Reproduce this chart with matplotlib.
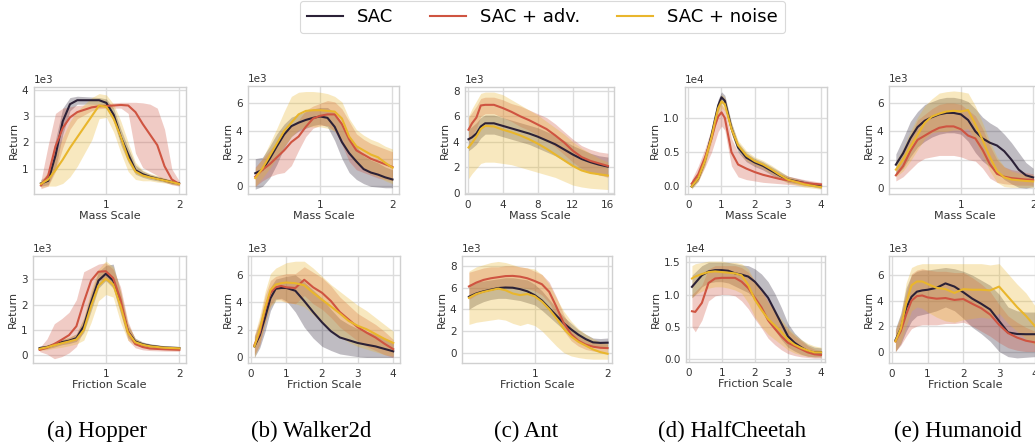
import numpy as np
import matplotlib
matplotlib.use("Agg")
import matplotlib.pyplot as plt
from matplotlib.lines import Line2D

# methods / colours
labels = ["SAC", "SAC + adv.", "SAC + noise"]
colors = ["#2b2137", "#cf5441", "#e9b62c"]

# ---------------- Hopper, mass (x1e3)
hop_m_x = [0.1, 0.2, 0.3, 0.4, 0.5, 0.6, 0.8, 0.9, 1.0, 1.1, 1.2, 1.3, 1.4, 1.5, 1.6, 1.7, 1.8, 1.9, 2.0]
hop_m_sac = [0.45, 0.55, 1.5, 2.8, 3.45, 3.6, 3.6, 3.6, 3.5, 3.05, 2.2, 1.55, 0.95, 0.8, 0.7, 0.63, 0.57, 0.5, 0.45]
hop_m_sac_lo = [0.35, 0.4, 1.0, 2.3, 3.2, 3.45, 3.45, 3.45, 3.3, 2.8, 1.9, 1.25, 0.8, 0.68, 0.6, 0.55, 0.5, 0.43, 0.38]
hop_m_sac_hi = [0.6, 0.75, 2.1, 3.3, 3.7, 3.75, 3.72, 3.7, 3.65, 3.3, 2.5, 1.8, 1.15, 0.92, 0.8, 0.72, 0.64, 0.57, 0.52]
hop_m_adv = [0.37, 0.75, 1.85, 2.55, 2.95, 3.15, 3.33, 3.37, 3.38, 3.4, 3.42, 3.4, 3.15, 2.7, 2.3, 1.9, 1.1, 0.6, 0.43]
hop_m_adv_lo = [0.25, 0.35, 0.9, 1.8, 2.5, 2.9, 3.2, 3.28, 3.3, 3.3, 3.3, 3.1, 1.6, 1.05, 0.9, 0.75, 0.5, 0.4, 0.35]
hop_m_adv_hi = [0.55, 1.9, 3.1, 3.3, 3.35, 3.4, 3.45, 3.47, 3.47, 3.5, 3.52, 3.52, 3.52, 3.5, 3.45, 3.3, 2.5, 1.0, 0.55]
hop_m_noi = [0.43, 0.6, 0.95, 1.35, 1.8, 2.2, 3.0, 3.4, 3.35, 2.9, 2.2, 1.4, 0.9, 0.75, 0.68, 0.62, 0.56, 0.5, 0.43]
hop_m_noi_lo = [0.3, 0.35, 0.35, 0.45, 0.7, 1.1, 2.1, 2.9, 2.95, 2.4, 1.6, 0.9, 0.6, 0.55, 0.55, 0.5, 0.47, 0.42, 0.37]
hop_m_noi_hi = [0.55, 0.9, 1.5, 2.2, 2.8, 3.2, 3.7, 3.85, 3.8, 3.45, 2.8, 2.0, 1.25, 0.95, 0.82, 0.75, 0.66, 0.58, 0.5]

# ---------------- Walker2d, mass (x1e3)
wal_m_x = [0.1, 0.2, 0.3, 0.4, 0.5, 0.6, 0.7, 0.8, 0.9, 1.0, 1.1, 1.2, 1.3, 1.4, 1.5, 1.6, 1.7, 1.8, 1.9, 2.0]
wal_m_sac = [0.95, 1.2, 2.0, 2.9, 3.75, 4.35, 4.6, 4.8, 4.95, 5.05, 4.95, 4.3, 3.2, 2.4, 1.8, 1.25, 1.0, 0.85, 0.65, 0.5]
wal_m_sac_lo = [-0.2, 0.0, 0.6, 1.6, 2.8, 3.6, 4.0, 4.2, 4.4, 4.5, 4.3, 3.3, 2.0, 1.0, 0.5, 0.2, 0.0, -0.05, -0.1, -0.1]
wal_m_sac_hi = [2.0, 2.1, 2.9, 3.8, 4.5, 5.0, 5.2, 5.4, 5.6, 5.7, 5.7, 5.3, 4.4, 3.6, 2.9, 2.2, 1.9, 1.7, 1.4, 1.2]
wal_m_adv = [0.7, 1.2, 1.6, 2.1, 2.6, 3.2, 3.6, 4.3, 4.9, 5.1, 5.2, 5.2, 4.5, 3.4, 2.6, 2.3, 2.0, 1.8, 1.6, 1.4]
wal_m_adv_lo = [0.0, 0.4, 0.7, 0.9, 1.0, 1.5, 2.6, 3.6, 4.2, 4.4, 4.4, 4.0, 3.0, 1.8, 1.2, 1.0, 0.8, 0.6, 0.5, 0.4]
wal_m_adv_hi = [1.4, 2.0, 2.6, 3.2, 3.8, 4.4, 4.8, 5.5, 5.8, 6.0, 6.2, 6.1, 5.6, 4.7, 3.8, 3.4, 3.1, 2.9, 2.7, 2.5]
wal_m_noi = [0.6, 1.3, 2.2, 3.1, 4.0, 4.6, 5.2, 5.45, 5.5, 5.5, 5.45, 5.4, 4.9, 3.6, 2.9, 2.6, 2.3, 2.1, 1.7, 1.35]
wal_m_noi_lo = [0.0, 0.6, 1.3, 2.1, 2.9, 3.6, 4.1, 4.3, 4.3, 4.3, 4.2, 4.0, 3.4, 2.3, 1.6, 1.2, 0.9, 0.7, 0.4, 0.2]
wal_m_noi_hi = [1.3, 2.0, 3.1, 4.2, 5.4, 6.5, 6.8, 6.85, 6.85, 6.8, 6.7, 6.5, 6.1, 4.9, 4.1, 3.7, 3.4, 3.2, 2.9, 2.7]

# ---------------- Ant, mass (x1e3)
ant_m_x = [0.1, 0.5, 1.0, 1.5, 2, 3, 4, 5, 6, 7, 8, 9, 10, 11, 12, 13, 14, 15, 16]
ant_m_sac = [4.2, 4.35, 4.65, 5.2, 5.45, 5.45, 5.25, 5.05, 4.85, 4.65, 4.4, 4.1, 3.8, 3.4, 3.0, 2.65, 2.4, 2.2, 2.05]
ant_m_sac_lo = [3.3, 3.5, 3.8, 4.3, 4.6, 4.6, 4.4, 4.2, 4.0, 3.8, 3.5, 3.2, 2.9, 2.5, 2.1, 1.8, 1.6, 1.4, 1.3]
ant_m_sac_hi = [5.0, 5.2, 5.5, 5.9, 6.1, 6.1, 5.9, 5.7, 5.5, 5.3, 5.1, 4.8, 4.5, 4.1, 3.7, 3.4, 3.1, 2.9, 2.8]
ant_m_adv = [4.95, 5.45, 5.9, 6.85, 6.9, 6.9, 6.65, 6.35, 6.0, 5.7, 5.35, 5.0, 4.5, 3.95, 3.3, 2.8, 2.5, 2.3, 2.1]
ant_m_adv_lo = [4.0, 4.5, 5.0, 6.0, 6.2, 6.2, 5.9, 5.6, 5.2, 4.9, 4.5, 4.1, 3.6, 3.0, 2.4, 1.9, 1.6, 1.4, 1.2]
ant_m_adv_hi = [5.9, 6.3, 6.8, 7.4, 7.5, 7.5, 7.3, 7.0, 6.8, 6.5, 6.2, 5.9, 5.4, 4.8, 4.2, 3.7, 3.4, 3.2, 3.1]
ant_m_noi = [3.55, 3.9, 4.4, 5.0, 5.25, 5.2, 4.95, 4.75, 4.5, 4.2, 3.85, 3.45, 3.0, 2.55, 2.1, 1.75, 1.55, 1.45, 1.35]
ant_m_noi_lo = [1.1, 1.5, 1.9, 2.3, 2.4, 2.4, 2.3, 2.2, 2.0, 1.8, 1.6, 1.4, 1.2, 0.9, 0.6, 0.45, 0.35, 0.3, 0.25]
ant_m_noi_hi = [6.0, 6.6, 7.2, 7.8, 7.9, 7.9, 7.7, 7.3, 6.9, 6.5, 6.1, 5.6, 5.1, 4.6, 4.0, 3.5, 3.1, 2.7, 2.4]

# ---------------- HalfCheetah, mass (x1e4)
hc_m_x = [0.1, 0.3, 0.5, 0.7, 0.8, 0.9, 1.0, 1.1, 1.2, 1.3, 1.5, 1.75, 2.0, 2.25, 2.5, 2.75, 3.0, 3.5, 4.0]
hc_m_sac = [0.0, 0.12, 0.38, 0.75, 0.97, 1.18, 1.3, 1.25, 1.05, 0.85, 0.57, 0.42, 0.35, 0.3, 0.23, 0.16, 0.1, 0.05, 0.0]
hc_m_sac_lo = [-0.03, 0.08, 0.32, 0.68, 0.9, 1.1, 1.22, 1.17, 0.97, 0.77, 0.5, 0.36, 0.29, 0.24, 0.17, 0.11, 0.06, 0.02, -0.03]
hc_m_sac_hi = [0.04, 0.17, 0.44, 0.82, 1.05, 1.27, 1.38, 1.33, 1.13, 0.93, 0.64, 0.49, 0.41, 0.36, 0.29, 0.22, 0.15, 0.09, 0.03]
hc_m_adv = [0.04, 0.18, 0.42, 0.7, 0.88, 1.02, 1.08, 1.0, 0.75, 0.5, 0.32, 0.26, 0.21, 0.17, 0.14, 0.11, 0.09, 0.05, 0.03]
hc_m_adv_lo = [0.0, 0.08, 0.28, 0.5, 0.65, 0.8, 0.88, 0.82, 0.55, 0.3, 0.14, 0.1, 0.08, 0.06, 0.05, 0.04, 0.03, 0.01, 0.0]
hc_m_adv_hi = [0.1, 0.3, 0.55, 0.85, 1.03, 1.15, 1.2, 1.13, 0.92, 0.7, 0.5, 0.42, 0.35, 0.29, 0.24, 0.19, 0.15, 0.1, 0.06]
hc_m_noi = [0.0, 0.12, 0.37, 0.72, 0.94, 1.14, 1.24, 1.2, 1.02, 0.84, 0.6, 0.45, 0.37, 0.32, 0.25, 0.17, 0.1, 0.03, -0.01]
hc_m_noi_lo = [-0.04, 0.07, 0.3, 0.64, 0.85, 1.04, 1.14, 1.1, 0.93, 0.76, 0.53, 0.38, 0.31, 0.26, 0.19, 0.11, 0.05, -0.01, -0.04]
hc_m_noi_hi = [0.04, 0.17, 0.44, 0.8, 1.03, 1.24, 1.34, 1.3, 1.11, 0.92, 0.67, 0.52, 0.43, 0.38, 0.31, 0.23, 0.15, 0.07, 0.02]

# ---------------- Humanoid, mass (x1e3)
hum_m_x = [0.1, 0.2, 0.3, 0.4, 0.5, 0.6, 0.7, 0.8, 0.9, 1.0, 1.1, 1.2, 1.3, 1.4, 1.5, 1.6, 1.7, 1.8, 1.9, 2.0]
hum_m_sac = [1.65, 2.45, 3.5, 4.3, 4.75, 5.0, 5.2, 5.3, 5.3, 5.2, 4.8, 4.0, 3.5, 3.2, 3.0, 2.6, 2.0, 1.3, 0.9, 0.75]
hum_m_sac_lo = [0.9, 1.4, 2.2, 2.9, 3.3, 3.6, 3.8, 3.9, 3.9, 3.8, 3.3, 2.5, 1.9, 1.5, 1.1, 0.6, 0.3, 0.05, 0.0, 0.1]
hum_m_sac_hi = [2.4, 3.5, 4.7, 5.4, 5.9, 6.1, 6.3, 6.4, 6.4, 6.3, 6.1, 5.6, 5.0, 4.6, 4.3, 3.8, 3.2, 2.5, 1.8, 1.4]
hum_m_adv = [0.9, 1.55, 2.6, 3.4, 3.7, 4.0, 4.25, 4.35, 4.35, 4.15, 3.7, 3.5, 2.7, 1.7, 1.0, 0.8, 0.7, 0.65, 0.6, 0.58]
hum_m_adv_lo = [0.5, 0.8, 1.3, 1.8, 2.1, 2.2, 2.3, 2.3, 2.3, 2.2, 2.0, 1.9, 1.4, 0.7, 0.4, 0.3, 0.25, 0.2, 0.2, 0.2]
hum_m_adv_hi = [1.4, 2.4, 3.7, 4.8, 5.2, 5.6, 5.9, 6.0, 6.0, 5.9, 5.5, 5.1, 4.2, 3.0, 2.0, 1.5, 1.3, 1.2, 1.1, 1.0]
hum_m_noi = [1.3, 2.0, 2.9, 3.75, 4.6, 5.05, 5.25, 5.4, 5.45, 5.4, 5.5, 4.5, 3.4, 2.2, 1.2, 0.75, 0.6, 0.55, 0.5, 0.47]
hum_m_noi_lo = [0.8, 1.2, 1.9, 2.7, 3.5, 3.9, 4.0, 4.0, 4.1, 4.1, 4.2, 3.3, 2.3, 1.2, 0.4, 0.1, 0.05, 0.05, 0.05, 0.05]
hum_m_noi_hi = [1.9, 2.8, 4.0, 5.0, 5.8, 6.3, 6.7, 6.8, 6.85, 6.8, 6.7, 5.8, 4.6, 3.3, 2.2, 1.5, 1.2, 1.05, 0.95, 0.9]

# ---------------- Hopper, friction (x1e3)
hop_f_x = [0.1, 0.2, 0.3, 0.4, 0.5, 0.6, 0.7, 0.8, 0.9, 1.0, 1.1, 1.2, 1.3, 1.4, 1.5, 1.6, 1.8, 2.0]
hop_f_sac = [0.29, 0.33, 0.42, 0.52, 0.58, 0.68, 1.15, 2.1, 2.95, 3.22, 2.95, 2.05, 0.95, 0.55, 0.44, 0.38, 0.31, 0.29]
hop_f_sac_lo = [0.22, 0.26, 0.33, 0.42, 0.47, 0.55, 0.9, 1.75, 2.65, 2.95, 2.65, 1.65, 0.7, 0.42, 0.35, 0.3, 0.25, 0.23]
hop_f_sac_hi = [0.36, 0.41, 0.52, 0.62, 0.7, 0.85, 1.45, 2.45, 3.3, 3.55, 3.6, 2.5, 1.2, 0.68, 0.53, 0.46, 0.38, 0.35]
hop_f_adv = [0.22, 0.3, 0.45, 0.62, 0.8, 1.15, 2.1, 2.95, 3.3, 3.32, 3.05, 2.2, 0.95, 0.45, 0.33, 0.27, 0.24, 0.22]
hop_f_adv_lo = [0.15, 0.05, -0.13, -0.05, 0.1, 0.35, 1.0, 2.2, 2.95, 3.0, 2.7, 1.7, 0.6, 0.3, 0.22, 0.19, 0.17, 0.16]
hop_f_adv_hi = [0.3, 0.65, 1.25, 1.45, 1.7, 2.2, 3.3, 3.45, 3.6, 3.65, 3.4, 2.7, 1.35, 0.62, 0.45, 0.36, 0.31, 0.28]
hop_f_noi = [0.26, 0.32, 0.4, 0.48, 0.55, 0.63, 1.0, 1.95, 2.75, 3.02, 2.8, 1.95, 0.9, 0.52, 0.42, 0.36, 0.3, 0.28]
hop_f_noi_lo = [0.2, 0.22, 0.28, 0.32, 0.38, 0.45, 0.6, 1.3, 2.15, 2.4, 2.3, 1.3, 0.6, 0.4, 0.33, 0.28, 0.23, 0.21]
hop_f_noi_hi = [0.33, 0.42, 0.52, 0.62, 0.72, 0.85, 1.5, 2.6, 3.4, 3.72, 3.5, 2.55, 1.25, 0.66, 0.52, 0.44, 0.37, 0.35]

# ---------------- Walker2d, friction (x1e3)
wal_f_x = [0.1, 0.25, 0.4, 0.55, 0.7, 0.85, 1.0, 1.25, 1.5, 1.75, 2.0, 2.25, 2.5, 2.75, 3.0, 3.25, 3.5, 3.75, 4.0]
wal_f_sac = [0.8, 1.6, 2.9, 4.3, 5.0, 5.05, 5.05, 4.85, 4.1, 3.3, 2.55, 1.9, 1.45, 1.25, 1.05, 0.92, 0.8, 0.62, 0.44]
wal_f_sac_lo = [0.0, 0.7, 1.9, 3.4, 4.2, 4.3, 4.1, 3.3, 2.2, 1.4, 0.8, 0.5, 0.25, 0.15, 0.05, 0.0, 0.0, 0.0, 0.0]
wal_f_sac_hi = [1.5, 2.5, 3.9, 5.1, 5.7, 5.8, 5.9, 6.0, 5.5, 4.9, 4.3, 3.5, 2.8, 2.4, 2.1, 1.9, 1.7, 1.4, 1.1]
wal_f_adv = [0.9, 1.8, 3.5, 4.7, 5.1, 5.2, 5.1, 5.05, 5.65, 5.1, 4.7, 4.1, 3.3, 2.75, 2.2, 1.8, 1.45, 1.0, 0.6]
wal_f_adv_lo = [0.2, 0.9, 2.5, 3.8, 4.3, 4.2, 4.0, 3.9, 4.5, 3.9, 3.5, 2.9, 2.2, 1.7, 1.2, 0.8, 0.5, 0.2, 0.0]
wal_f_adv_hi = [1.6, 2.7, 4.5, 5.6, 5.9, 6.0, 6.1, 6.1, 6.6, 6.2, 5.8, 5.2, 4.4, 3.8, 3.2, 2.8, 2.4, 1.9, 1.3]
wal_f_noi = [0.8, 2.0, 3.6, 4.9, 5.3, 5.4, 5.45, 5.4, 5.25, 4.7, 4.2, 3.7, 3.2, 2.65, 2.3, 2.05, 1.7, 1.35, 1.05]
wal_f_noi_lo = [0.0, 1.0, 2.5, 3.7, 4.1, 4.1, 4.0, 3.9, 3.7, 3.1, 2.5, 2.0, 1.5, 1.1, 0.8, 0.6, 0.4, 0.2, 0.1]
wal_f_noi_hi = [1.6, 3.0, 4.8, 6.1, 6.5, 6.7, 6.9, 7.0, 7.0, 6.5, 5.9, 5.3, 4.8, 4.3, 3.8, 3.4, 2.9, 2.4, 1.9]

# ---------------- Ant, friction (x1e3)
ant_f_x = [0.1, 0.2, 0.3, 0.4, 0.5, 0.6, 0.7, 0.8, 0.9, 1.0, 1.1, 1.2, 1.3, 1.4, 1.5, 1.6, 1.7, 1.8, 1.9, 2.0]
ant_f_sac = [5.15, 5.45, 5.65, 5.8, 5.95, 6.0, 5.98, 5.85, 5.65, 5.3, 4.8, 4.1, 3.4, 2.7, 2.15, 1.65, 1.25, 0.95, 0.9, 0.92]
ant_f_sac_lo = [4.0, 4.4, 4.7, 4.9, 5.0, 5.0, 4.9, 4.8, 4.6, 4.4, 3.9, 3.3, 2.7, 2.1, 1.6, 1.2, 0.85, 0.6, 0.5, 0.5]
ant_f_sac_hi = [6.3, 6.5, 6.6, 6.7, 6.8, 6.9, 6.9, 6.8, 6.7, 6.3, 5.7, 4.9, 4.1, 3.3, 2.7, 2.1, 1.7, 1.35, 1.3, 1.35]
ant_f_adv = [6.1, 6.45, 6.7, 6.85, 6.95, 7.05, 7.07, 7.0, 6.85, 6.6, 6.3, 5.6, 4.2, 2.7, 1.7, 1.1, 0.75, 0.55, 0.45, 0.42]
ant_f_adv_lo = [4.9, 5.3, 5.6, 5.8, 5.9, 6.0, 6.1, 6.0, 5.9, 5.7, 5.3, 4.6, 3.3, 2.0, 1.1, 0.6, 0.3, 0.15, 0.05, 0.05]
ant_f_adv_hi = [7.4, 7.6, 7.8, 7.9, 7.9, 8.0, 8.0, 7.9, 7.8, 7.5, 7.2, 6.5, 5.1, 3.5, 2.3, 1.6, 1.2, 0.95, 0.85, 0.8]
ant_f_noi = [5.05, 5.4, 5.6, 5.75, 5.9, 5.75, 5.45, 5.3, 5.4, 5.2, 4.7, 4.0, 3.15, 2.2, 1.5, 1.0, 0.65, 0.3, 0.05, -0.1]
ant_f_noi_lo = [2.6, 2.8, 2.9, 3.0, 3.1, 3.0, 2.7, 2.5, 2.7, 2.5, 2.0, 1.3, 0.6, 0.0, -0.3, -0.45, -0.55, -0.6, -0.6, -0.6]
ant_f_noi_hi = [7.5, 7.9, 8.1, 8.3, 8.4, 8.3, 8.1, 7.9, 7.8, 7.7, 7.2, 6.3, 5.0, 3.8, 2.9, 2.2, 1.7, 1.3, 1.0, 0.9]

# ---------------- HalfCheetah, friction (x1e4)
hc_f_x = [0.1, 0.2, 0.4, 0.6, 0.8, 1.0, 1.2, 1.4, 1.6, 1.8, 2.0, 2.2, 2.4, 2.6, 2.8, 3.0, 3.2, 3.4, 3.6, 3.8, 4.0]
hc_f_sac = [1.12, 1.18, 1.3, 1.36, 1.38, 1.38, 1.37, 1.33, 1.31, 1.28, 1.2, 1.08, 0.95, 0.75, 0.55, 0.35, 0.25, 0.18, 0.12, 0.1, 0.1]
hc_f_sac_lo = [0.95, 1.0, 1.12, 1.18, 1.2, 1.2, 1.18, 1.13, 1.08, 1.03, 0.93, 0.78, 0.62, 0.45, 0.3, 0.18, 0.12, 0.07, 0.04, 0.03, 0.03]
hc_f_sac_hi = [1.3, 1.35, 1.45, 1.5, 1.5, 1.5, 1.5, 1.48, 1.46, 1.45, 1.4, 1.32, 1.2, 1.02, 0.8, 0.55, 0.4, 0.3, 0.22, 0.18, 0.17]
hc_f_adv = [0.74, 0.73, 0.87, 1.18, 1.25, 1.26, 1.26, 1.26, 1.2, 1.1, 0.95, 0.8, 0.6, 0.47, 0.35, 0.25, 0.2, 0.15, 0.1, 0.07, 0.06]
hc_f_adv_lo = [0.5, 0.42, 0.6, 0.9, 0.98, 1.0, 1.0, 0.98, 0.9, 0.78, 0.62, 0.48, 0.32, 0.22, 0.14, 0.08, 0.05, 0.03, 0.02, 0.01, 0.01]
hc_f_adv_hi = [1.0, 1.05, 1.15, 1.4, 1.45, 1.45, 1.45, 1.45, 1.42, 1.35, 1.22, 1.08, 0.9, 0.75, 0.58, 0.45, 0.36, 0.28, 0.2, 0.15, 0.13]
hc_f_noi = [1.25, 1.28, 1.32, 1.35, 1.36, 1.35, 1.34, 1.33, 1.3, 1.15, 0.92, 0.76, 0.62, 0.52, 0.42, 0.3, 0.22, 0.17, 0.13, 0.1, 0.1]
hc_f_noi_lo = [0.95, 1.0, 1.05, 1.1, 1.12, 1.12, 1.1, 1.07, 1.02, 0.87, 0.65, 0.5, 0.38, 0.3, 0.22, 0.14, 0.09, 0.06, 0.04, 0.03, 0.03]
hc_f_noi_hi = [1.45, 1.48, 1.5, 1.52, 1.52, 1.52, 1.5, 1.5, 1.48, 1.4, 1.2, 1.05, 0.88, 0.75, 0.62, 0.48, 0.38, 0.3, 0.24, 0.2, 0.18]

# ---------------- Humanoid, friction (x1e3)
hum_f_x = [0.1, 0.25, 0.4, 0.55, 0.7, 0.85, 1.0, 1.25, 1.5, 1.75, 2.0, 2.25, 2.5, 2.75, 3.0, 3.25, 3.5, 3.75, 4.0]
hum_f_sac = [0.9, 1.8, 3.4, 4.3, 4.7, 4.8, 4.85, 5.0, 5.35, 5.1, 4.65, 4.15, 3.75, 3.3, 2.4, 1.5, 1.38, 1.36, 1.36]
hum_f_sac_lo = [0.0, 0.6, 1.6, 2.4, 2.8, 2.9, 3.0, 3.2, 3.5, 3.2, 2.6, 1.9, 1.4, 0.8, 0.0, -0.4, -0.5, -0.45, -0.4]
hum_f_sac_hi = [1.8, 3.0, 5.0, 6.0, 6.3, 6.4, 6.4, 6.5, 6.6, 6.5, 6.3, 6.0, 5.6, 5.2, 4.5, 3.5, 3.2, 3.1, 3.1]
hum_f_adv = [0.8, 1.6, 2.9, 4.0, 4.35, 4.4, 4.25, 4.15, 4.2, 4.05, 4.12, 3.75, 3.4, 2.9, 2.1, 1.45, 1.1, 0.85, 0.72]
hum_f_adv_lo = [0.0, 0.5, 1.2, 1.8, 2.0, 2.1, 2.1, 2.1, 2.2, 2.2, 2.3, 2.0, 1.6, 1.2, 0.7, 0.3, 0.1, 0.0, 0.0]
hum_f_adv_hi = [1.6, 2.8, 4.6, 6.1, 6.4, 6.5, 6.4, 6.3, 6.3, 6.2, 6.2, 5.8, 5.3, 4.7, 3.7, 2.8, 2.3, 1.9, 1.6]
hum_f_noi = [0.8, 1.8, 3.8, 5.2, 5.5, 5.5, 5.3, 5.0, 4.9, 4.6, 4.9, 4.85, 4.85, 4.8, 5.1, 4.3, 3.5, 2.8, 2.0]
hum_f_noi_lo = [0.0, 0.7, 2.0, 3.2, 3.5, 3.4, 3.1, 2.7, 2.4, 2.3, 2.5, 2.6, 2.7, 2.6, 3.0, 2.2, 1.6, 1.0, 0.5]
hum_f_noi_hi = [1.7, 2.9, 5.4, 6.6, 6.8, 6.9, 6.9, 6.9, 6.9, 6.9, 6.9, 6.9, 6.9, 6.8, 6.9, 6.1, 5.3, 4.6, 3.6]

captions = ["(a) Hopper", "(b) Walker2d", "(c) Ant", "(d) HalfCheetah", "(e) Humanoid"]


plt.rcParams.update({
    "font.family": "DejaVu Sans",
    "axes.edgecolor": "#d0d0d0",
    "axes.linewidth": 1.0,
    "grid.color": "#dcdcdc",
    "grid.linewidth": 1.0,
    "xtick.color": "#333333",
    "ytick.color": "#333333",
    "axes.labelcolor": "#333333",
})

fig = plt.figure(figsize=(10.35, 4.42), dpi=100)

W, H = 1035.0, 442.0


def make_ax(left, top, width, height):
    return fig.add_axes([left / W, 1 - (top + height) / H, width / W, height / H])


def panel(ax, x, series, scale, xlabel, xlim, ylim, xticks, ystep):
    x = np.array(x)
    for (m, lo, hi), c in zip(series, colors):
        ax.fill_between(x, np.array(lo) * scale, np.array(hi) * scale,
                        color=c, alpha=0.3, linewidth=0)
    for (m, lo, hi), c in zip(series, colors):
        ax.plot(x, np.array(m) * scale, color=c, lw=1.5)
    ax.set_xlim(xlim)
    ax.set_ylim(ylim[0] * scale, ylim[1] * scale)
    ax.set_xticks(xticks)
    ax.yaxis.set_major_locator(plt.MultipleLocator(ystep * scale))
    ax.ticklabel_format(axis="y", style="sci", scilimits=(0, 0))
    ax.yaxis.get_offset_text().set_fontsize(7.5)
    ax.yaxis.get_offset_text().set_color("#333333")
    ax.grid(True)
    ax.set_axisbelow(True)
    ax.tick_params(length=0, labelsize=7.5, pad=4)
    ax.set_xlabel(xlabel, fontsize=8, labelpad=1)
    ax.set_ylabel("Return", fontsize=8, labelpad=2)


# row 1: mass
ax = make_ax(34, 87, 152, 107)
panel(ax, hop_m_x, [(hop_m_sac, hop_m_sac_lo, hop_m_sac_hi), (hop_m_adv, hop_m_adv_lo, hop_m_adv_hi),
                    (hop_m_noi, hop_m_noi_lo, hop_m_noi_hi)], 1e3, "Mass Scale",
      (0.005, 2.095), (0.05, 4.1), [1, 2], 1)
ax = make_ax(248, 86, 151, 108)
panel(ax, wal_m_x, [(wal_m_sac, wal_m_sac_lo, wal_m_sac_hi), (wal_m_adv, wal_m_adv_lo, wal_m_adv_hi),
                    (wal_m_noi, wal_m_noi_lo, wal_m_noi_hi)], 1e3, "Mass Scale",
      (0.0, 2.09), (-0.55, 7.25), [1, 2], 2)
ax = make_ax(465, 87, 149, 107)
panel(ax, ant_m_x, [(ant_m_sac, ant_m_sac_lo, ant_m_sac_hi), (ant_m_adv, ant_m_adv_lo, ant_m_adv_hi),
                    (ant_m_noi, ant_m_noi_lo, ant_m_noi_hi)], 1e3, "Mass Scale",
      (-0.3, 16.7), (-0.1, 8.3), [0, 4, 8, 12, 16], 2)
ax = make_ax(685, 87, 142, 107)
panel(ax, hc_m_x, [(hc_m_sac, hc_m_sac_lo, hc_m_sac_hi), (hc_m_adv, hc_m_adv_lo, hc_m_adv_hi),
                   (hc_m_noi, hc_m_noi_lo, hc_m_noi_hi)], 1e4, "Mass Scale",
      (-0.1, 4.18), (-0.11, 1.45), [0, 1, 2, 3, 4], 0.5)
ax = make_ax(889, 86, 151, 108)
panel(ax, hum_m_x, [(hum_m_sac, hum_m_sac_lo, hum_m_sac_hi), (hum_m_adv, hum_m_adv_lo, hum_m_adv_hi),
                    (hum_m_noi, hum_m_noi_lo, hum_m_noi_hi)], 1e3, "Mass Scale",
      (0.005, 2.095), (-0.42, 7.2), [1, 2], 2)

# row 2: friction
ax = make_ax(33, 256, 153, 107)
panel(ax, hop_f_x, [(hop_f_sac, hop_f_sac_lo, hop_f_sac_hi), (hop_f_adv, hop_f_adv_lo, hop_f_adv_hi),
                    (hop_f_noi, hop_f_noi_lo, hop_f_noi_hi)], 1e3, "Friction Scale",
      (0.01, 2.09), (-0.3, 3.92), [1, 2], 1)
ax = make_ax(248, 256, 152, 107)
panel(ax, wal_f_x, [(wal_f_sac, wal_f_sac_lo, wal_f_sac_hi), (wal_f_adv, wal_f_adv_lo, wal_f_adv_hi),
                    (wal_f_noi, wal_f_noi_lo, wal_f_noi_hi)], 1e3, "Friction Scale",
      (-0.08, 4.19), (-0.41, 7.38), [0, 1, 2, 3, 4], 2)
ax = make_ax(462, 256, 150, 107)
panel(ax, ant_f_x, [(ant_f_sac, ant_f_sac_lo, ant_f_sac_hi), (ant_f_adv, ant_f_adv_lo, ant_f_adv_hi),
                    (ant_f_noi, ant_f_noi_lo, ant_f_noi_hi)], 1e3, "Friction Scale",
      (0.005, 2.06), (-0.95, 8.9), [1, 2], 2)
ax = make_ax(686, 256, 139, 106)
panel(ax, hc_f_x, [(hc_f_sac, hc_f_sac_lo, hc_f_sac_hi), (hc_f_adv, hc_f_adv_lo, hc_f_adv_hi),
                   (hc_f_noi, hc_f_noi_lo, hc_f_noi_hi)], 1e4, "Friction Scale",
      (-0.08, 4.12), (-0.05, 1.6), [0, 1, 2, 3, 4], 0.5)
ax = make_ax(889, 256, 153, 107)
panel(ax, hum_f_x, [(hum_f_sac, hum_f_sac_lo, hum_f_sac_hi), (hum_f_adv, hum_f_adv_lo, hum_f_adv_hi),
                    (hum_f_noi, hum_f_noi_lo, hum_f_noi_hi)], 1e3, "Friction Scale",
      (-0.08, 4.2), (-0.9, 7.5), [0, 1, 2, 3, 4], 2)

# legend
handles = [Line2D([], [], color=c, lw=1.5) for c in colors]
leg = fig.legend(handles, labels, loc="upper center", bbox_to_anchor=(0.524, 0.998),
                 ncol=3, fontsize=13, frameon=True, fancybox=True, borderaxespad=0)
leg.get_frame().set_edgecolor("#d0d0d0")
leg.get_frame().set_linewidth(0.8)

# captions
cap_x = [97, 311, 526, 732, 958]
for cx, t in zip(cap_x, captions):
    fig.text(cx / W, 0.012, t, ha="center", va="baseline",
             family="Liberation Serif", fontsize=16.5, color="black")

fig.savefig("out.png", dpi=100)
